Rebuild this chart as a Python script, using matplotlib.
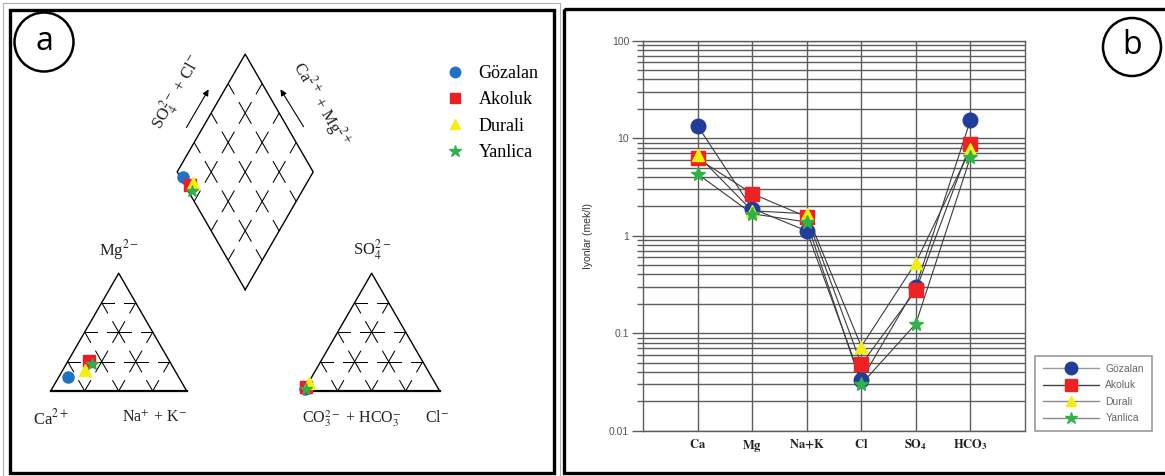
import numpy as np
import matplotlib
matplotlib.use('Agg')
import matplotlib.pyplot as plt
from matplotlib.lines import Line2D
from matplotlib.patches import Rectangle, Circle
from matplotlib.ticker import LogLocator, FuncFormatter, NullFormatter

plt.rcParams['font.family'] = ['Liberation Sans', 'DejaVu Sans']
plt.rcParams['mathtext.fontset'] = 'stix'
plt.rcParams['lines.scale_dashes'] = False

# ---------------- data (meq/l) ----------------
ions = ['Ca', 'Mg', 'Na+K', 'Cl', 'SO4', 'HCO3']
ion_labels = [r'$\mathbf{Ca}$', r'$\mathbf{Mg}$', r'$\mathbf{Na{+}K}$',
              r'$\mathbf{Cl}$', r'$\mathbf{SO_4}$', r'$\mathbf{HCO_3}$']
sites = ['Gözalan', 'Akoluk', 'Durali', 'Yanlica']
gozalan = [13.4, 1.90, 1.12, 0.033, 0.30, 15.3]
akoluk = [6.2, 2.70, 1.56, 0.048, 0.275, 8.7]
durali = [6.7, 1.80, 1.68, 0.073, 0.53, 7.7]
yanlica = [4.3, 1.68, 1.38, 0.030, 0.125, 6.4]
site_values = [gozalan, akoluk, durali, yanlica]

# styles
markers = ['o', 's', '^', '*']
piper_colors = ['#1f72c4', '#ee1c24', '#f7ee10', '#2fb04a']
sch_colors = ['#223c9c', '#ee2222', '#f2ee10', '#2db34a']
sch_ms = [10.5, 10, 9, 10.5]

W, H = 1165, 476
fig = plt.figure(figsize=(W / 100, H / 100), dpi=100)
fig.patch.set_facecolor('white')

# ================= Panel a : Piper diagram =================
S = 136.0           # triangle side in pixels
OX, OY = 50.7, 391  # pixel position of the cation-triangle Ca corner
axA = fig.add_axes([10 / W, (H - 468) / H, 542 / W, 458 / H])
axA.set_xlim((10 - OX) / S, (552 - OX) / S)
axA.set_ylim((OY - 468) / S, (OY - 10) / S)
axA.axis('off')

def px(x, y):
    return ((x - OX) / S, (OY - y) / S)

h = np.sqrt(3) / 2
g = 0.86
dash = (9, (18, 6.5))
grid_kw = dict(color='black', lw=0.75, ls=dash)
out_kw = dict(color='black', lw=1.0)

def triangle(x0):
    axA.plot([x0, x0 + 1, x0 + 0.5, x0], [0, 0, h, 0], **out_kw)
    axA.plot([x0, x0 + 1], [0, 0], color='black', lw=1.6)
    for f in (0.25, 0.5, 0.75):
        axA.plot([x0 + f / 2, x0 + 1 - f / 2], [f * h, f * h], **grid_kw)
        axA.plot([x0 + f, x0 + f + (1 - f) / 2], [0, (1 - f) * h], **grid_kw)
        axA.plot([x0 + 1 - f, x0 + (1 - f) / 2], [0, (1 - f) * h], **grid_kw)

triangle(0.0)
triangle(1 + g)

B = np.array([1 + g / 2, g * h])
u1 = np.array([-0.5, h])
u2 = np.array([0.5, h])
dia = np.array([B, B + u1, B + u1 + u2, B + u2, B])
axA.plot(dia[:, 0], dia[:, 1], **out_kw)
for f in (0.25, 0.5, 0.75):
    p0 = B + f * u1
    p1 = p0 + u2
    axA.plot([p0[0], p1[0]], [p0[1], p1[1]], **grid_kw)
    q0 = B + f * u2
    q1 = q0 + u1
    axA.plot([q0[0], q1[0]], [q0[1], q1[1]], **grid_kw)

# data points (percent of meq, computed from the Schoeller values)
for i, v in enumerate(site_values):
    ca, mg, nak, cl, so4, hco3 = v
    ct = ca + mg + nak
    at = cl + so4 + hco3
    mg_p, na_p, ca_p = mg / ct, nak / ct, ca / ct
    so4_p, cl_p = so4 / at, cl / at
    cx, cy = na_p + 0.5 * mg_p, mg_p * h
    ax_, ay_ = 1 + g + cl_p + 0.5 * so4_p, so4_p * h
    d = B + (ca_p + mg_p) * u1 + (so4_p + cl_p) * u2
    for xx, yy in [(cx, cy), (ax_, ay_), (d[0], d[1])]:
        axA.plot(xx, yy, ls='none', marker=markers[i],
                 ms=8 if markers[i] != '*' else 9,
                 color=piper_colors[i], mec=piper_colors[i], zorder=5 + i)

serif = 'Liberation Serif'
tk = dict(fontsize=12, family=serif, color='#222222')
tk2 = dict(fontsize=11.5, family=serif, color='#222222')
axA.text(0.5, 1.04, r'Mg$^{2-}$', ha='center', va='center', **tk)
axA.text(1 + g + 0.5, 1.04, r'SO$_4^{2-}$', ha='center', va='center', **tk)
axA.text(0.0, -0.2, r'Ca$^{2+}$', ha='center', va='center', **tk)
axA.text(1.0, -0.2, r'Na$^{+}$ + K$^{-}$', ha='right', va='center', **tk2)
axA.text(1 + g - 0.01, -0.2, r'CO$_3^{2-}$ + HCO$_3^{-}$', ha='left', va='center', **tk2)
axA.text(*px(449, 418), r'Cl$^{-}$', ha='right', va='center', **tk2)

axA.text(*px(177, 92), r'SO$_4^{2-}$ + Cl$^{-}$', rotation=60,
         rotation_mode='anchor', ha='center', va='center', **tk)
axA.text(*px(321, 104), r'Ca$^{2+}$ + Mg$^{2+}$', rotation=-60,
         rotation_mode='anchor', ha='center', va='center', **tk)
ap = dict(arrowstyle='-|>', lw=0.8, color='black', mutation_scale=9)
axA.annotate('', xy=px(210, 87), xytext=px(185, 130), arrowprops=ap)
axA.annotate('', xy=px(279, 87), xytext=px(305, 129), arrowprops=ap)

hA = [Line2D([], [], ls='none', marker=markers[i], ms=7.5 if markers[i] != '*' else 9,
             color=piper_colors[i]) for i in range(4)]
axA.legend(hA, sites, loc='upper left', bbox_to_anchor=(446 / W, 1 - 65 / H),
           bbox_transform=fig.transFigure, frameon=False,
           prop=dict(family=serif, size=13), handlelength=0.95,
           handletextpad=0.85, labelspacing=0.52, borderpad=0, borderaxespad=0)

# ================= Panel b : Schoeller diagram =================
axB = fig.add_axes([643 / W, (H - 430.7) / H, 382 / W, 390 / H])
axB.set_yscale('log')
axB.set_ylim(0.01, 100)
xpos = np.arange(1, len(ions) + 1)
axB.set_xlim(0, len(ions) + 1)
gc = '#5c5c5c'
for i, v in enumerate(site_values):
    axB.plot(xpos, v, color='#3c3c3c', lw=0.8, zorder=3)
    axB.plot(xpos, v, ls='none', marker=markers[i], ms=sch_ms[i],
             color=sch_colors[i], mec=sch_colors[i], zorder=4 + i)
axB.set_xticks(xpos, ion_labels)
axB.tick_params(axis='x', length=0, pad=5, labelsize=9, labelcolor='#222222')
axB.yaxis.set_major_locator(LogLocator(base=10, numticks=10))
axB.yaxis.set_minor_locator(LogLocator(base=10, subs=np.arange(2, 10), numticks=50))
axB.yaxis.set_major_formatter(FuncFormatter(lambda val, _: f'{val:g}'))
axB.yaxis.set_minor_formatter(NullFormatter())
axB.tick_params(axis='y', which='major', direction='out', length=8, width=1.0,
                color=gc, labelsize=7.5, labelcolor='#555555', pad=2)
axB.tick_params(axis='y', which='minor', direction='out', length=4.5, width=1.0, color=gc)
axB.grid(True, which='both', axis='y', color=gc, lw=1.0, zorder=1)
axB.grid(True, which='major', axis='x', color=gc, lw=1.0, zorder=1)
axB.set_axisbelow(True)
for sp in axB.spines.values():
    sp.set_color(gc)
    sp.set_linewidth(1.0)
axB.set_ylabel('Iyonlar (mek/l)', fontsize=7.5, color='#333333')
axB.yaxis.set_label_coords(-0.131, 0.5)

leg_lc = ['#9a9a9a', '#404040', '#8a8a8a', '#8a8a8a']
hB = [Line2D([], [], color=leg_lc[i], lw=1.0, marker=markers[i],
             ms=[9, 9, 7.5, 9][i], mfc=sch_colors[i], mec=sch_colors[i])
      for i in range(4)]
axB.legend(hB, sites, loc='upper left', bbox_to_anchor=(1035 / W, 1 - 356 / H),
           bbox_transform=fig.transFigure, frameon=True, fancybox=False,
           edgecolor='#808080', fontsize=7.5, labelcolor='#666666',
           handlelength=5.4, handletextpad=0.6, labelspacing=0.62,
           borderpad=0.75, borderaxespad=0).get_frame().set_linewidth(1.2)

# ================= frames and panel labels =================
ov = fig.add_axes([0, 0, 1, 1], zorder=10)
ov.set_xlim(0, W)
ov.set_ylim(H, 0)
ov.axis('off')
ov.patch.set_alpha(0)
ov.add_patch(Rectangle((2.5, 2.5), 557, 480, fill=False, lw=0.8, ec='#b0b0b0'))
ov.add_patch(Rectangle((9.5, 9.5), 544, 463, fill=False, lw=2.4, ec='black'))
ov.add_patch(Rectangle((563.5, 9.0), 620, 464, fill=False, lw=2.4, ec='black'))
ov.add_patch(Circle((44, 42), 29.5, fill=False, lw=1.8, ec='black'))
ov.add_patch(Circle((1132, 47), 29, fill=False, lw=1.8, ec='black'))
ov.text(44, 42, 'a', ha='center', va='center', fontsize=23, family='Open Sans', color='black')
ov.text(1132, 45, 'b', ha='center', va='center', fontsize=23, family='Open Sans', color='black')

fig.savefig('out.png', dpi=100)
